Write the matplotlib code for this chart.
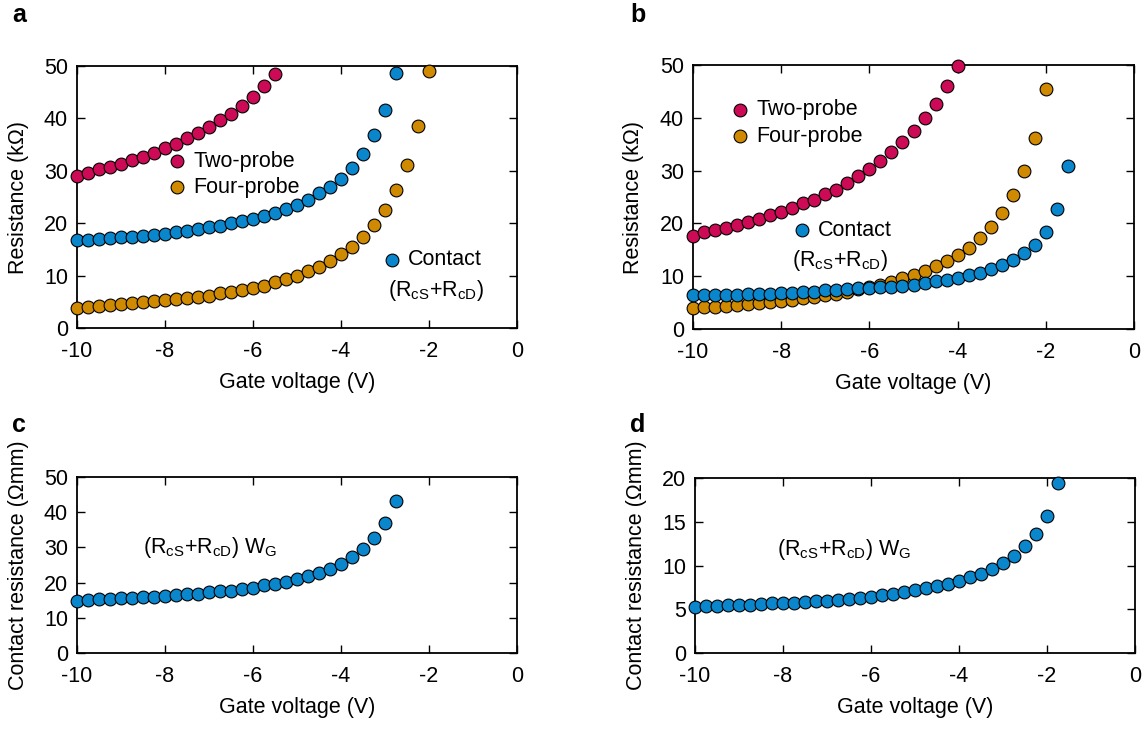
import matplotlib
matplotlib.use("Agg")
import matplotlib.pyplot as plt

plt.rcParams["font.family"] = ["Liberation Sans", "DejaVu Sans"]
plt.rcParams["mathtext.fontset"] = "custom"
plt.rcParams["mathtext.rm"] = "Liberation Sans"
plt.rcParams["mathtext.it"] = "Liberation Sans"
plt.rcParams["axes.unicode_minus"] = False

# Gate-voltage sweep (V), 0.25 V steps
gate_v = [-10.0, -9.75, -9.5, -9.25, -9.0, -8.75, -8.5, -8.25, -8.0, -7.75,
          -7.5, -7.25, -7.0, -6.75, -6.5, -6.25, -6.0, -5.75, -5.5, -5.25,
          -5.0, -4.75, -4.5, -4.25, -4.0, -3.75, -3.5, -3.25, -3.0, -2.75,
          -2.5, -2.25, -2.0, -1.75, -1.5]

# Device a: resistance (kOhm)
two_probe_a = [29.1, 29.5, 30.3, 30.8, 31.3, 32.0, 32.7, 33.4, 34.3, 35.1,
               36.2, 37.2, 38.3, 39.7, 40.9, 42.4, 44.1, 46.2, 48.4]
contact_a = [16.7, 16.8, 16.9, 17.1, 17.3, 17.4, 17.6, 17.8, 18.0, 18.3,
             18.5, 18.8, 19.2, 19.5, 20.0, 20.4, 20.8, 21.4, 22.0, 22.7,
             23.5, 24.4, 25.7, 27.0, 28.5, 30.6, 33.3, 36.8, 41.6, 48.7]
four_probe_a = [3.9, 4.1, 4.2, 4.3, 4.5, 4.7, 4.9, 5.1, 5.3, 5.5,
                5.7, 6.0, 6.2, 6.6, 6.9, 7.3, 7.7, 8.1, 8.7, 9.3,
                10.0, 10.8, 11.7, 12.8, 14.1, 15.4, 17.3, 19.7, 22.5, 26.3,
                31.2, 38.6, 49.0]

# Device b: resistance (kOhm)
two_probe_b = [17.7, 18.3, 18.7, 19.1, 19.7, 20.3, 20.8, 21.5, 22.1, 22.9,
               23.8, 24.5, 25.6, 26.4, 27.6, 28.9, 30.3, 31.8, 33.5, 35.4,
               37.5, 39.9, 42.7, 46.1, 49.8]
four_probe_b = [4.0, 4.1, 4.2, 4.4, 4.5, 4.7, 4.9, 5.1, 5.3, 5.5,
                5.8, 6.1, 6.4, 6.7, 7.1, 7.6, 7.9, 8.4, 8.9, 9.6,
                10.2, 11.0, 11.9, 12.9, 14.1, 15.4, 17.2, 19.3, 21.9, 25.3,
                29.9, 36.1, 45.4]
contact_b = [6.4, 6.4, 6.4, 6.5, 6.5, 6.6, 6.6, 6.7, 6.8, 6.9,
             7.0, 7.1, 7.3, 7.4, 7.6, 7.7, 7.8, 7.9, 8.0, 8.1,
             8.4, 8.7, 9.0, 9.3, 9.7, 10.2, 10.7, 11.4, 12.1, 13.1,
             14.4, 16.0, 18.4, 22.8, 30.8]

# Width-normalised contact resistance (Ohm mm)
rc_width_c = [14.9, 15.1, 15.2, 15.3, 15.5, 15.7, 15.8, 16.0, 16.2, 16.4,
              16.7, 16.9, 17.2, 17.5, 17.7, 18.2, 18.6, 19.2, 19.6, 20.2,
              21.0, 21.9, 22.7, 24.0, 25.4, 27.2, 29.6, 32.6, 36.9, 43.1]
rc_width_d = [5.30, 5.35, 5.40, 5.43, 5.47, 5.50, 5.58, 5.66, 5.70, 5.74,
              5.81, 5.93, 5.97, 6.04, 6.20, 6.31, 6.42, 6.58, 6.77, 6.96,
              7.15, 7.38, 7.61, 7.92, 8.26, 8.64, 9.06, 9.56, 10.25, 11.09,
              12.2, 13.61, 15.64, 19.43]

x_ticks = [-10, -8, -6, -4, -2, 0]
y_ticks_ab = [0, 10, 20, 30, 40, 50]
y_ticks_c = [0, 10, 20, 30, 40, 50]
y_ticks_d = [0, 5, 10, 15, 20]

RED = "#CC0A55"
ORANGE = "#D08A02"
BLUE = "#0A86CC"

FS = 15.5
MS = 9.2
RCSD = r"(R$_{\rm cS}$+R$_{\rm cD}$)"

W, H = 1148, 729
fig = plt.figure(figsize=(W / 100, H / 100), dpi=100)


def make_axes(left, top, right, bottom):
    return fig.add_axes([left / W, 1 - bottom / H, (right - left) / W, (bottom - top) / H])


def style(ax, yticks, ylabel):
    ax.set_xlim(-10, 0)
    ax.set_ylim(yticks[0], yticks[-1])
    ax.set_xticks(x_ticks)
    ax.set_yticks(yticks)
    ax.tick_params(direction="in", top=True, right=True, length=5.5, width=1.0,
                   labelsize=FS)
    ax.tick_params(axis="x", pad=9.5)
    ax.tick_params(axis="y", pad=6.5)
    for s in ax.spines.values():
        s.set_linewidth(1.3)
    ax.set_xlabel("Gate voltage (V)", fontsize=FS, labelpad=7)
    ax.set_ylabel(ylabel, fontsize=FS)
    ax.yaxis.set_label_coords(-0.11, 0.5)


def dots(ax, x, y, color):
    ax.plot(x, y, "o", ms=MS, mfc=color, mec="black", mew=0.8, ls="none",
            clip_on=False, zorder=3)


def key(ax, x, y, color, label):
    ax.plot([x], [y], "o", ms=MS, mfc=color, mec="black", mew=0.8,
            transform=ax.transAxes, clip_on=False, zorder=4)
    ax.text(x + 0.037, y, label, transform=ax.transAxes, fontsize=FS,
            va="center", ha="left")


# Panel a
ax_a = make_axes(77, 66, 517, 328)
style(ax_a, y_ticks_ab, "Resistance (k\u03a9)")
dots(ax_a, gate_v[:len(two_probe_a)], two_probe_a, RED)
dots(ax_a, gate_v[:len(four_probe_a)], four_probe_a, ORANGE)
dots(ax_a, gate_v[:len(contact_a)], contact_a, BLUE)
key(ax_a, 0.227, 0.637, RED, "Two-probe")
key(ax_a, 0.227, 0.538, ORANGE, "Four-probe")
key(ax_a, 0.716, 0.260, BLUE, "Contact")
ax_a.text(0.707, 0.145, RCSD, transform=ax_a.transAxes, fontsize=FS,
          va="center", ha="left")

# Panel b
ax_b = make_axes(693, 65, 1134, 329)
style(ax_b, y_ticks_ab, "Resistance (k\u03a9)")
dots(ax_b, gate_v[:len(four_probe_b)], four_probe_b, ORANGE)
dots(ax_b, gate_v[:len(contact_b)], contact_b, BLUE)
dots(ax_b, gate_v[:len(two_probe_b)], two_probe_b, RED)
key(ax_b, 0.107, 0.830, RED, "Two-probe")
key(ax_b, 0.107, 0.731, ORANGE, "Four-probe")
key(ax_b, 0.247, 0.375, BLUE, "Contact")
ax_b.text(0.225, 0.261, RCSD, transform=ax_b.transAxes, fontsize=FS,
          va="center", ha="left")

# Panel c
ax_c = make_axes(77, 477, 517, 653)
style(ax_c, y_ticks_c, "Contact resistance (\u03a9mm)")
dots(ax_c, gate_v[:len(rc_width_c)], rc_width_c, BLUE)
ax_c.text(0.15, 0.597, RCSD + r" W$_{\rm G}$", transform=ax_c.transAxes,
          fontsize=FS, va="center", ha="left")

# Panel d
ax_d = make_axes(695, 478, 1135, 653)
style(ax_d, y_ticks_d, "Contact resistance (\u03a9mm)")
dots(ax_d, gate_v[:len(rc_width_d)], rc_width_d, BLUE)
ax_d.text(0.186, 0.589, RCSD + r" W$_{\rm G}$", transform=ax_d.transAxes,
          fontsize=FS, va="center", ha="left")

for lab, x, y in (("a", 12, 15), ("b", 630, 15), ("c", 12, 425), ("d", 630, 425)):
    fig.text(x / W, 1 - y / H, lab, fontsize=18, fontweight="bold",
             va="center", ha="left")

fig.savefig("out.png", dpi=100)
